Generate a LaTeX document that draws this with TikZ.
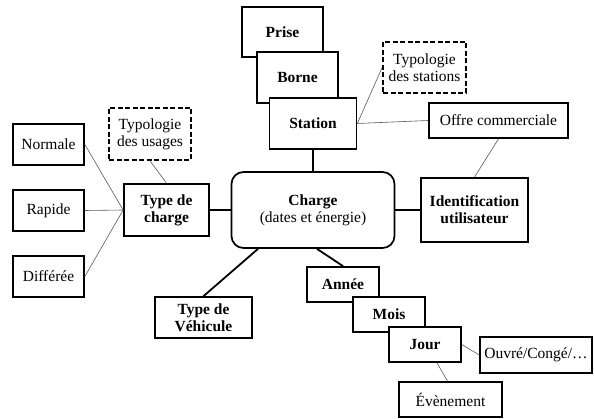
\documentclass[tikz,border=0pt]{standalone}
\usepackage{fontspec}
\setmainfont{Liberation Serif}
\begin{document}
\begin{tikzpicture}[x=1pt,y=-1pt,
  base/.style={draw, fill=white, line width=1.7pt, inner sep=0pt, align=center,
    font=\fontsize{15.5}{17}\selectfont},
  box/.style={base, font=\fontsize{15.5}{17}\selectfont\bfseries},
  plainbox/.style={base},
  dashbox/.style={base, dash pattern=on 5pt off 2.5pt},
  thin/.style={draw, line width=0.6pt, color=black!65},
  thick/.style={draw, line width=1.8pt}]
\useasboundingbox (0,0) rectangle (594,419);

% stacked station boxes
\node[box, minimum width=81pt, minimum height=50pt] (prise) at (282.5,32) {Prise};
\node[box, minimum width=81pt, minimum height=51pt] (borne) at (297.5,77.5) {Borne};
\node[box, minimum width=87pt, minimum height=51pt] (station) at (313,123.5) {Station};
\node[dashbox, minimum width=83pt, minimum height=51pt] (typstations) at (424.5,67.5) {Typologie\\des stations};
\node[plainbox, minimum width=139pt, minimum height=35pt] (offre) at (498.5,120.5) {Offre commerciale};
\node[box, minimum width=107pt, minimum height=64pt] (ident) at (474.5,210) {Identification\\utilisateur};

% central node
\node[base, rounded corners=12pt, minimum width=163pt, minimum height=76pt] (charge) at (313,210)
  {\textbf{Charge}\\(dates et énergie)};

% charge type branch
\node[box, minimum width=85pt, minimum height=52pt] (typcharge) at (166.5,210) {Type de\\charge};
\node[dashbox, minimum width=82pt, minimum height=52pt] (typusages) at (150,134) {Typologie\\des usages};
\node[plainbox, minimum width=71pt, minimum height=41pt] (normale) at (48.5,144.5) {Normale};
\node[plainbox, minimum width=71pt, minimum height=41pt] (rapide) at (48.5,210.5) {Rapide};
\node[plainbox, minimum width=71pt, minimum height=41pt] (differee) at (48.5,276.5) {Différée};

\node[box, minimum width=97pt, minimum height=41pt] (vehicule) at (203.5,317.5) {Type de\\Véhicule};

% time branch
\node[box, minimum width=72pt, minimum height=35pt] (annee) at (343,284.5) {Année};
\node[box, minimum width=72pt, minimum height=35pt] (mois) at (389,314.5) {Mois};
\node[box, minimum width=72pt, minimum height=35pt] (jour) at (425,344.5) {Jour};
\node[plainbox, minimum width=112pt, minimum height=36pt] (ouvre) at (536,355) {Ouvré/Congé/…};
\node[plainbox, minimum width=103pt, minimum height=35pt] (evenement) at (450.5,399.5) {Évènement};

% main links
\draw[thick] (station.south) -- (charge.north);
\draw[thick] (charge.west) -- (typcharge.east);
\draw[thick] (charge.east) -- (ident.west);
\draw[thick] ([xshift=-55pt]charge.south) -- (vehicule.north);
\draw[thick] ([xshift=4pt]charge.south) -- (annee.north);

% secondary links
\draw[thin] (station.east) -- (typstations.west);
\draw[thin] (station.east) -- (offre.west);
\draw[thin] (offre.south) -- (ident.north);
\draw[thin] (normale.east) -- (typcharge.west);
\draw[thin] (rapide.east) -- (typcharge.west);
\draw[thin] (differee.east) -- (typcharge.west);
\draw[thin] (typusages.south) -- (typcharge.north);
\draw[thin] (jour.east) -- (ouvre.west);
\draw[thin] ([xshift=12pt]jour.south) -- ([xshift=-3pt]evenement.north);
\end{tikzpicture}
\end{document}
